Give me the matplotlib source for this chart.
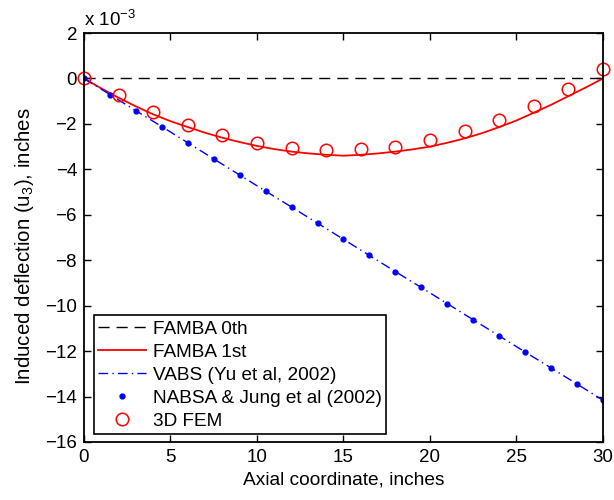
import matplotlib
matplotlib.use("Agg")
import matplotlib.pyplot as plt

plt.rcParams['font.family'] = ['Liberation Sans', 'DejaVu Sans']
plt.rcParams['mathtext.fontset'] = 'custom'
plt.rcParams['mathtext.rm'] = 'Liberation Sans'
plt.rcParams['mathtext.it'] = 'Liberation Sans'

# values in units of 1e-3 inches
famba0_x = [0, 30]
famba0_y = [0, 0]

famba1_x = [0, 1, 2, 3, 4, 5, 6, 7, 8, 9, 10, 11, 12, 13, 14, 15, 16, 17, 18, 19,
            20, 21, 22, 23, 24, 25, 26, 27, 28, 29, 30]
famba1_y = [0, -0.44, -0.85, -1.23, -1.58, -1.88, -2.14, -2.39, -2.61, -2.80, -2.97,
            -3.11, -3.22, -3.30, -3.36, -3.40, -3.36, -3.30, -3.22, -3.12, -3.00,
            -2.83, -2.64, -2.41, -2.14, -1.85, -1.51, -1.16, -0.78, -0.40, 0.0]

vabs_x = [0, 1.5, 3, 4.5, 6, 7.5, 9, 10.5, 12, 13.5, 15, 16.5, 18, 19.5, 21, 22.5,
          24, 25.5, 27, 28.5, 30]
vabs_y = [0, -0.71, -1.42, -2.12, -2.83, -3.54, -4.25, -4.96, -5.66, -6.37, -7.08,
          -7.79, -8.50, -9.20, -9.91, -10.62, -11.33, -12.04, -12.74, -13.45, -14.16]

nabsa_x = vabs_x
nabsa_y = vabs_y

fem_x = [0, 2, 4, 6, 8, 10, 12, 14, 16, 18, 20, 22, 24, 26, 28, 30]
fem_y = [0, -0.74, -1.46, -2.04, -2.50, -2.84, -3.06, -3.16, -3.12, -3.00, -2.73,
         -2.33, -1.83, -1.20, -0.45, 0.43]

fig = plt.figure(figsize=(6.14, 5.0), dpi=100)
ax = fig.add_axes([0.1368, 0.116, 0.8452, 0.818])

ax.plot(famba0_x, famba0_y, color='black', lw=1.0, dashes=(8, 5), label='FAMBA 0th')
ax.plot(famba1_x, famba1_y, color='red', lw=1.3, label='FAMBA 1st')
ax.plot(vabs_x, vabs_y, color='blue', lw=1.0, dashes=(7, 3, 1, 3),
        label='VABS (Yu et al, 2002)')
ax.plot(nabsa_x, nabsa_y, linestyle='none', marker='o', ms=3.5, color='blue',
        mec='blue', label='NABSA & Jung et al (2002)')
ax.plot(fem_x, fem_y, linestyle='none', marker='o', ms=9, mfc='none', mec='red',
        mew=1.1, label='3D FEM', clip_on=False)

ax.set_xlim(0, 30)
ax.set_ylim(-16, 2)
ax.set_xticks([0, 5, 10, 15, 20, 25, 30])
ax.set_yticks([-16, -14, -12, -10, -8, -6, -4, -2, 0, 2])
ax.set_yticklabels(['\u221216', '\u221214', '\u221212', '\u221210', '\u22128', '\u22126',
                    '\u22124', '\u22122', '0', '2'])
ax.tick_params(direction='in', length=5, width=1.0, labelsize=13.5, top=True,
               right=True, pad=5)
for s in ax.spines.values():
    s.set_linewidth(1.3)

ax.set_xlabel('Axial coordinate, inches', fontsize=13.8, labelpad=4)
ax.set_ylabel('Induced deflection (u$_3$), inches', fontsize=14.8)
ax.yaxis.set_label_coords(-0.092, 0.48)
ax.text(0.0, 1.008, r'x 10$^{-3}$', transform=ax.transAxes, fontsize=13.5,
        ha='left', va='bottom')

leg = ax.legend(loc='lower left', bbox_to_anchor=(0.004, 0.0), fontsize=13.7,
                frameon=True, fancybox=False, edgecolor='black', framealpha=1,
                handlelength=2.5, borderpad=0.25, labelspacing=0.3,
                handletextpad=0.35, borderaxespad=0.4)
leg.get_frame().set_linewidth(1.2)

fig.savefig('out.png', dpi=100)
